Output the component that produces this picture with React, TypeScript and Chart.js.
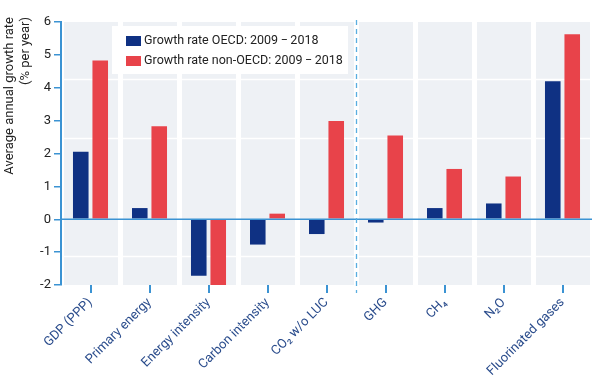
import { useEffect, useRef } from "react";
import { Chart, registerables } from "chart.js";
Chart.register(...registerables);

const categories = [
  "GDP (PPP)",
  "Primary energy",
  "Energy intensity",
  "Carbon intensity",
  "CO₂ w/o LUC",
  "GHG",
  "CH₄",
  "N₂O",
  "Fluorinated gases",
];
const oecdValues = [2.05, 0.34, -1.72, -0.77, -0.45, -0.1, 0.34, 0.48, 4.2];
const nonOecdValues = [4.83, 2.83, -2.0, 0.17, 2.99, 2.55, 1.53, 1.3, 5.63];
const seriesLabels = ["Growth rate OECD: 2009\u2009\u2212\u20092018", "Growth rate non-OECD: 2009\u2009\u2212\u20092018"];
const yTitleLines = ["Average annual growth rate", "(% per year)"];
const yMin = -2;
const yMax = 6;
const panelLineValues = [4.28, 2.48, -1.12];
const dividerAfterIndex = 4;

const NAVY = "#0f3183";
const RED = "#e8434a";
const AXIS_BLUE = "#3b93d3";
const FONT = "Roboto";

const decorPlugin = {
  id: "decor",
  beforeDatasetsDraw(chart: any) {
    const { ctx, chartArea: a, scales } = chart;
    const y = scales.y;
    const n = categories.length;
    const w = (a.right - a.left) / n;
    ctx.save();
    ctx.fillStyle = "#eef1f5";
    for (let i = 0; i < n; i++) {
      ctx.fillRect(a.left + i * w + 3, a.top, w - 5, a.bottom - a.top);
    }
    ctx.strokeStyle = "rgba(255,255,255,0.95)";
    ctx.lineWidth = 1.5;
    for (const v of panelLineValues) {
      const py = Math.round(y.getPixelForValue(v)) + 0.5;
      ctx.beginPath();
      ctx.moveTo(a.left + 2, py);
      ctx.lineTo(a.right, py);
      ctx.stroke();
    }
    ctx.restore();
  },
  afterDatasetsDraw(chart: any) {
    const { ctx, chartArea: a, scales } = chart;
    const y = scales.y;
    const n = categories.length;
    const w = (a.right - a.left) / n;
    ctx.save();
    // zero line
    const zy = y.getPixelForValue(0);
    ctx.strokeStyle = AXIS_BLUE;
    ctx.lineWidth = 1.6;
    ctx.beginPath();
    ctx.moveTo(a.left, zy);
    ctx.lineTo(a.right, zy);
    ctx.stroke();
    // divider
    const dx = a.left + (dividerAfterIndex + 1) * w + 0.5;
    ctx.strokeStyle = "#5aaee0";
    ctx.lineWidth = 1.3;
    ctx.setLineDash([5, 4]);
    ctx.beginPath();
    ctx.moveTo(dx, a.top - 2);
    ctx.lineTo(dx, a.bottom + 8);
    ctx.stroke();
    ctx.setLineDash([]);
    // legend
    const lx = 112;
    const ly = 26;
    ctx.fillStyle = "rgba(255,255,255,0.97)";
    ctx.fillRect(lx, ly, 236, 48);
    ctx.font = `12.5px ${FONT}`;
    ctx.textBaseline = "middle";
    ctx.textAlign = "left";
    const colors = [NAVY, RED];
    for (let i = 0; i < 2; i++) {
      const cy = ly + 15 + i * 20;
      ctx.fillStyle = colors[i];
      ctx.fillRect(lx + 14, cy - 5, 15, 10);
      ctx.fillStyle = "#222";
      ctx.fillText(seriesLabels[i], lx + 32, cy);
    }
    // y title
    ctx.font = `13px ${FONT}`;
    ctx.fillStyle = "#222";
    ctx.textAlign = "right";
    ctx.textBaseline = "middle";
    const xs = [10, 26];
    for (let i = 0; i < yTitleLines.length; i++) {
      ctx.save();
      ctx.translate(xs[i], 17);
      ctx.rotate(-Math.PI / 2);
      ctx.fillText(yTitleLines[i], 0, 0);
      ctx.restore();
    }
    ctx.restore();
  },
};

export default function App() {
  const ref = useRef<HTMLCanvasElement>(null);
  useEffect(() => {
    document.body.style.margin = "0";
    const chart = new Chart(ref.current!, {
      type: "bar",
      data: {
        labels: categories,
        datasets: [
          { label: seriesLabels[0], data: oecdValues, backgroundColor: NAVY, categoryPercentage: 0.66, barPercentage: 0.8 },
          { label: seriesLabels[1], data: nonOecdValues, backgroundColor: RED, categoryPercentage: 0.66, barPercentage: 0.8 },
        ],
      },
      options: {
        responsive: false,
        animation: false,
        layout: { padding: { top: 22, right: 8, left: 0, bottom: 0 } },
        plugins: { legend: { display: false }, tooltip: { enabled: false } },
        scales: {
          x: {
            grid: { offset: false, drawOnChartArea: false, color: AXIS_BLUE, lineWidth: 2, tickLength: 8 },
            border: { display: false },
            ticks: {
              autoSkip: false,
              maxRotation: 45,
              minRotation: 45,
              padding: 2,
              color: "#2a4c8c",
              font: { family: FONT, size: 13 },
            },
            afterFit(s: any) {
              s.height = 105;
            },
          },
          y: {
            min: yMin,
            max: yMax,
            grid: { drawOnChartArea: false, color: AXIS_BLUE, lineWidth: 1.5, tickLength: 7 },
            border: { display: true, color: AXIS_BLUE, width: 2 },
            ticks: { stepSize: 1, padding: 3, color: "#222", font: { family: FONT, size: 13 } },
            afterFit(s: any) {
              s.width = 61;
            },
          },
        },
      },
      plugins: [decorPlugin],
    });
    return () => chart.destroy();
  }, []);
  return (
    <div style={{ width: 600, height: 390 }}>
      <canvas ref={ref} width={600} height={390} />
    </div>
  );
}
